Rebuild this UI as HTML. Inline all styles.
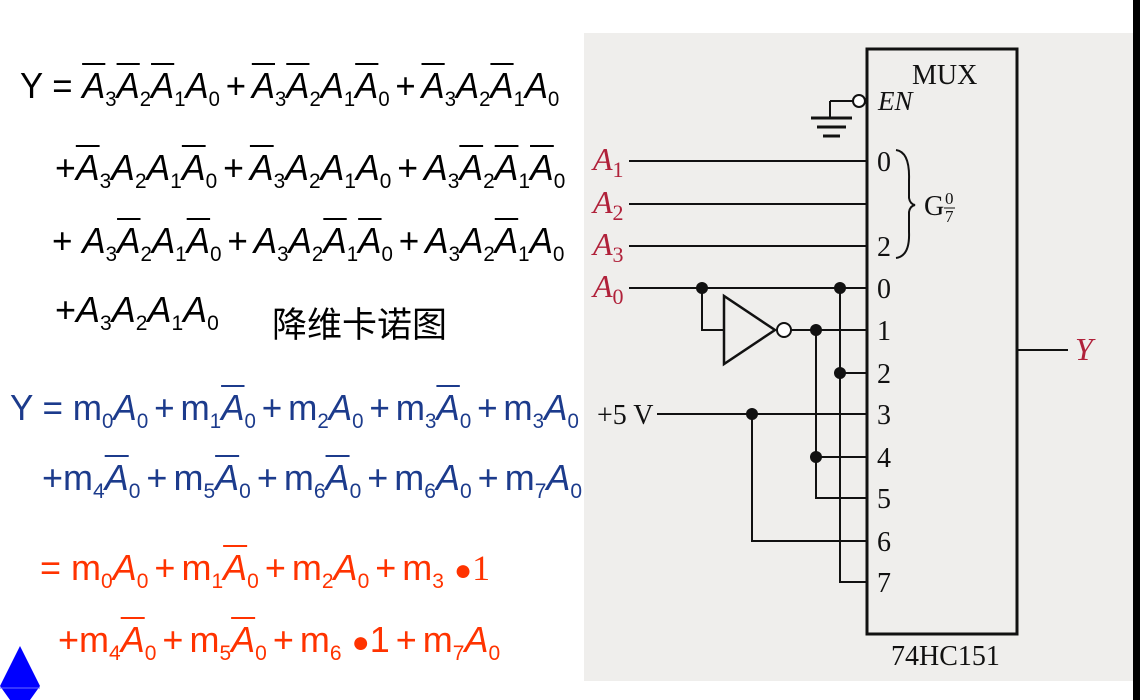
<!DOCTYPE html>
<html><head><meta charset="utf-8"><style>
body{margin:0;width:1140px;height:700px;background:#fff;position:relative;overflow:hidden;font-family:"Liberation Sans",sans-serif}
.l{position:absolute;white-space:nowrap;font-size:36px;line-height:36px;color:#000;transform-origin:0 0}
.l i{font-style:italic}
.o{text-decoration:overline;text-decoration-thickness:2px}
sub{font-size:21px;vertical-align:-8px;line-height:0}
.b{color:#1c3b8c}
.r{color:#ff3300}
.p{margin:0 6px}
</style></head><body>
<div class="l" style="left:20px;top:68px;transform:scaleX(0.965)">Y = <i class="o">A</i><sub>3</sub><i class="o">A</i><sub>2</sub><i class="o">A</i><sub>1</sub><i>A</i><sub>0</sub><span class="p">+</span><i class="o">A</i><sub>3</sub><i class="o">A</i><sub>2</sub><i>A</i><sub>1</sub><i class="o">A</i><sub>0</sub><span class="p">+</span><i class="o">A</i><sub>3</sub><i>A</i><sub>2</sub><i class="o">A</i><sub>1</sub><i>A</i><sub>0</sub></div>
<div class="l" style="left:55px;top:150px;transform:scaleX(0.99)">+<i class="o">A</i><sub>3</sub><i>A</i><sub>2</sub><i>A</i><sub>1</sub><i class="o">A</i><sub>0</sub><span class="p">+</span><i class="o">A</i><sub>3</sub><i>A</i><sub>2</sub><i>A</i><sub>1</sub><i>A</i><sub>0</sub><span class="p">+</span><i>A</i><sub>3</sub><i class="o">A</i><sub>2</sub><i class="o">A</i><sub>1</sub><i class="o">A</i><sub>0</sub></div>
<div class="l" style="left:52px;top:223px;transform:scaleX(0.975)">+ <i>A</i><sub>3</sub><i class="o">A</i><sub>2</sub><i>A</i><sub>1</sub><i class="o">A</i><sub>0</sub><span class="p">+</span><i>A</i><sub>3</sub><i>A</i><sub>2</sub><i class="o">A</i><sub>1</sub><i class="o">A</i><sub>0</sub><span class="p">+</span><i>A</i><sub>3</sub><i>A</i><sub>2</sub><i class="o">A</i><sub>1</sub><i>A</i><sub>0</sub></div>
<div class="l" style="left:55px;top:292px">+<i>A</i><sub>3</sub><i>A</i><sub>2</sub><i>A</i><sub>1</sub><i>A</i><sub>0</sub></div>
<div class="l" style="left:272px;top:308px;font-family:'Liberation Sans','Noto Sans CJK SC',sans-serif;font-size:35px">降维卡诺图</div>

<div class="l b" style="left:10px;top:390px;transform:scaleX(0.975)">Y = m<sub>0</sub><i>A</i><sub>0</sub><span class="p">+</span>m<sub>1</sub><i class="o">A</i><sub>0</sub><span class="p">+</span>m<sub>2</sub><i>A</i><sub>0</sub><span class="p">+</span>m<sub>3</sub><i class="o">A</i><sub>0</sub><span class="p">+</span>m<sub>3</sub><i>A</i><sub>0</sub></div>
<div class="l b" style="left:42px;top:460px">+m<sub>4</sub><i class="o">A</i><sub>0</sub><span class="p">+</span>m<sub>5</sub><i class="o">A</i><sub>0</sub><span class="p">+</span>m<sub>6</sub><i class="o">A</i><sub>0</sub><span class="p">+</span>m<sub>6</sub><i>A</i><sub>0</sub><span class="p">+</span>m<sub>7</sub><i>A</i><sub>0</sub></div>
<div class="l r" style="left:40px;top:550px">= m<sub>0</sub><i>A</i><sub>0</sub><span class="p">+</span>m<sub>1</sub><i class="o">A</i><sub>0</sub><span class="p">+</span>m<sub>2</sub><i>A</i><sub>0</sub><span class="p">+</span>m<sub>3</sub> <span style="font-size:30px">●</span><span style="font-family:'Liberation Serif',serif">1</span></div>
<div class="l r" style="left:58px;top:622px">+m<sub>4</sub><i class="o">A</i><sub>0</sub><span class="p">+</span>m<sub>5</sub><i class="o">A</i><sub>0</sub><span class="p">+</span>m<sub>6</sub> <span style="font-size:30px">●</span>1<span class="p">+</span>m<sub>7</sub><i>A</i><sub>0</sub></div>

<svg style="position:absolute;left:0;top:0" width="1140" height="700">
<polygon points="20,646 40,686 30,700 10,700 0,686" fill="#0000ff"/>
<line x1="0" y1="688" x2="40" y2="688" stroke="#6a6aff" stroke-width="1"/>
<rect x="584" y="33" width="549" height="648" fill="#efeeec"/>
<rect x="1133" y="0" width="7" height="700" fill="#000"/>
<g stroke="#111" stroke-width="2" fill="none">
<rect x="867" y="49" width="150" height="585" stroke-width="3"/>
<line x1="830" y1="101" x2="853" y2="101"/><line x1="830" y1="101" x2="830" y2="118"/>
<line x1="811" y1="118" x2="852" y2="118" stroke-width="3"/><line x1="817" y1="127" x2="846" y2="127" stroke-width="3"/><line x1="823" y1="136" x2="840" y2="136" stroke-width="3"/>
<circle cx="859" cy="101" r="6" fill="#fff"/>
<line x1="629" y1="161" x2="867" y2="161"/><line x1="629" y1="204" x2="867" y2="204"/><line x1="629" y1="246" x2="867" y2="246"/><line x1="629" y1="288" x2="867" y2="288"/>
<polyline points="702,288 702,330 724,330"/>
<polygon points="724,296 724,364 775,330" stroke-width="2.5"/>
<circle cx="784" cy="330" r="7" fill="#fff"/>
<line x1="791" y1="330" x2="867" y2="330"/>
<polyline points="840,288 840,582 867,582"/>
<line x1="840" y1="373" x2="867" y2="373"/>
<polyline points="816,330 816,498 867,498"/>
<line x1="816" y1="457" x2="867" y2="457"/>
<line x1="657" y1="414" x2="867" y2="414"/>
<polyline points="752,414 752,541 867,541"/>
<line x1="1017" y1="350" x2="1068" y2="350"/>
<path d="M896,150 Q910,152 909,180 L909,198 Q910,204 915,205 Q910,206 909,212 L909,232 Q910,256 896,258"/>
</g>
<g fill="#111"><circle cx="702" cy="288" r="6"/><circle cx="840" cy="288" r="6"/><circle cx="816" cy="330" r="6"/><circle cx="840" cy="373" r="6"/><circle cx="752" cy="414" r="6"/><circle cx="816" cy="457" r="6"/></g>
<g font-family="Liberation Serif,serif" font-size="28" fill="#111">
<text x="912" y="84">MUX</text>
<text x="878" y="110" font-style="italic" font-size="27">EN</text>
<text x="877" y="171">0</text><text x="877" y="256">2</text>
<text x="924" y="215">G</text><text x="945" y="204" font-size="17">0</text><line x1="944" y1="208" x2="955" y2="208" stroke="#111"/><text x="945" y="222" font-size="17">7</text>
<text x="877" y="298">0</text><text x="877" y="340">1</text><text x="877" y="383">2</text><text x="877" y="424">3</text><text x="877" y="467">4</text><text x="877" y="508">5</text><text x="877" y="551">6</text><text x="877" y="592">7</text>
<text x="597" y="424">+5 V</text>
<text x="891" y="665">74HC151</text>
</g>
<g font-family="Liberation Serif,serif" font-size="32" fill="#b0213a" font-style="italic">
<text x="593" y="170">A<tspan font-size="22" dy="7" font-style="normal">1</tspan></text>
<text x="593" y="213">A<tspan font-size="22" dy="7" font-style="normal">2</tspan></text>
<text x="593" y="255">A<tspan font-size="22" dy="7" font-style="normal">3</tspan></text>
<text x="593" y="297">A<tspan font-size="22" dy="7" font-style="normal">0</tspan></text>
<text x="1075" y="360">Y</text>
</g>
</svg>
</body></html>
